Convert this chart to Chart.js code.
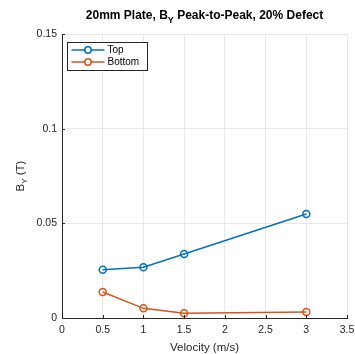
<!DOCTYPE html>
<html>
<head>
<meta charset="utf-8">
<script src="https://cdn.jsdelivr.net/npm/chart.js@4/dist/chart.umd.min.js"></script>
<style>
  html, body { margin: 0; padding: 0; background: #fff; }
  #wrap { width: 355px; height: 354px; }
</style>
</head>
<body>
<div id="wrap"><canvas id="c" width="355" height="354"></canvas></div>
<script>
// Velocity (m/s) and peak-to-peak B_Y (T) at the top and bottom sensors
const velocity = [0.5, 1, 1.5, 3];
const topValues = [0.0255, 0.0268, 0.0338, 0.0549];
const bottomValues = [0.0137, 0.0051, 0.0025, 0.0032];
const xTicks = [0, 0.5, 1, 1.5, 2, 2.5, 3, 3.5];
const yTicks = [0, 0.05, 0.1, 0.15];
const seriesNames = ['Top', 'Bottom'];

const BLUE = '#0072BD';
const ORANGE = '#D95319';
const FONT = '"Liberation Sans", Arial, sans-serif';

// Draws text with a subscript part: [[text, isSub], ...]
function drawRich(ctx, parts, x, y, size, bold, align) {
  const fontFor = (s) => (bold ? 'bold ' : '') + s + 'px ' + FONT;
  const subSize = Math.round(size * 0.72);
  let total = 0;
  parts.forEach(([t, sub]) => {
    ctx.font = fontFor(sub ? subSize : size);
    total += ctx.measureText(t).width;
  });
  let cx = align === 'center' ? x - total / 2 : x;
  ctx.textAlign = 'left';
  ctx.textBaseline = 'alphabetic';
  parts.forEach(([t, sub]) => {
    ctx.font = fontFor(sub ? subSize : size);
    ctx.fillText(t, cx, sub ? y + size * 0.3 : y);
    cx += ctx.measureText(t).width;
  });
}

const annotations = {
  id: 'annotations',
  afterDraw(chart) {
    const ctx = chart.ctx;
    const area = chart.chartArea;
    ctx.save();
    // inward tick marks
    ctx.strokeStyle = '#262626';
    ctx.lineWidth = 1;
    const xs = chart.scales.x, ys = chart.scales.y;
    xTicks.forEach(v => {
      const px = Math.round(xs.getPixelForValue(v)) + 0.5;
      ctx.beginPath(); ctx.moveTo(px, area.bottom); ctx.lineTo(px, area.bottom - 3); ctx.stroke();
    });
    yTicks.forEach(v => {
      const py = Math.round(ys.getPixelForValue(v)) + 0.5;
      ctx.beginPath(); ctx.moveTo(area.left, py); ctx.lineTo(area.left + 3, py); ctx.stroke();
    });

    // title
    ctx.fillStyle = '#000';
    drawRich(ctx, [['20mm Plate, B', false], ['Y', true], [' Peak-to-Peak, 20% Defect', false]],
      (area.left + area.right) / 2, 19, 12, true, 'center');

    // x label
    ctx.fillStyle = '#262626';
    ctx.font = '11.5px ' + FONT;
    ctx.textAlign = 'center';
    ctx.textBaseline = 'alphabetic';
    ctx.fillText('Velocity (m/s)', (area.left + area.right) / 2, 351);

    // y label
    ctx.save();
    ctx.translate(24, (area.top + area.bottom) / 2);
    ctx.rotate(-Math.PI / 2);
    drawRich(ctx, [['B', false], ['Y', true], [' (T)', false]], 0, 0, 11.5, false, 'center');
    ctx.restore();

    // legend
    const lx = 67.5, ly = 42.5, lw = 80, lh = 28;
    ctx.fillStyle = '#fff';
    ctx.fillRect(lx, ly, lw, lh);
    ctx.strokeStyle = '#262626';
    ctx.lineWidth = 1;
    ctx.strokeRect(lx, ly, lw, lh);
    const colors = [BLUE, ORANGE];
    seriesNames.forEach((name, i) => {
      const cy = ly + 7.5 + i * 12;
      ctx.strokeStyle = colors[i];
      ctx.lineWidth = 1.5;
      ctx.beginPath(); ctx.moveTo(lx + 4, cy); ctx.lineTo(lx + 37, cy); ctx.stroke();
      ctx.beginPath(); ctx.arc(lx + 20.5, cy, 3.2, 0, Math.PI * 2);
      ctx.fillStyle = '#fff'; ctx.fill(); ctx.stroke();
      ctx.fillStyle = '#000';
      ctx.font = '10px ' + FONT;
      ctx.textAlign = 'left';
      ctx.textBaseline = 'middle';
      ctx.fillText(name, lx + 40, cy + 0.5);
    });
    ctx.restore();
  }
};

const fmt = v => String(Math.round(v * 100) / 100);

new Chart(document.getElementById('c'), {
  type: 'line',
  data: {
    datasets: [
      {
        label: seriesNames[0],
        data: velocity.map((v, i) => ({ x: v, y: topValues[i] })),
        borderColor: BLUE, backgroundColor: '#fff',
        borderWidth: 1.5, pointRadius: 3.5, pointBorderWidth: 1.5,
        pointBackgroundColor: 'rgba(255,255,255,0)', pointBorderColor: BLUE, tension: 0
      },
      {
        label: seriesNames[1],
        data: velocity.map((v, i) => ({ x: v, y: bottomValues[i] })),
        borderColor: ORANGE, backgroundColor: '#fff',
        borderWidth: 1.5, pointRadius: 3.5, pointBorderWidth: 1.5,
        pointBackgroundColor: 'rgba(255,255,255,0)', pointBorderColor: ORANGE, tension: 0
      }
    ]
  },
  options: {
    responsive: false,
    animation: false,
    devicePixelRatio: 1,
    layout: { padding: { top: 34, right: 8, left: 0, bottom: 0 } },
    plugins: { legend: { display: false }, tooltip: { enabled: false }, title: { display: false } },
    scales: {
      x: {
        type: 'linear', min: 0, max: 3.5,
        afterBuildTicks: s => { s.ticks = xTicks.map(v => ({ value: v })); },
        afterFit: s => { s.height = 36; s.paddingLeft = 0; s.paddingRight = 0; },
        grid: { color: '#e8e8e8', drawTicks: false },
        border: { color: '#262626', width: 1 },
        ticks: { color: '#262626', font: { family: FONT, size: 10.5 }, padding: 6,
                 callback: v => fmt(v) }
      },
      y: {
        type: 'linear', min: 0, max: 0.15,
        afterBuildTicks: s => { s.ticks = yTicks.map(v => ({ value: v })); },
        afterFit: s => { s.width = 62; s.paddingTop = 0; s.paddingBottom = 0; },
        grid: { color: '#e8e8e8', drawTicks: false },
        border: { color: '#262626', width: 1 },
        ticks: { color: '#262626', font: { family: FONT, size: 10.5 }, padding: 5,
                 callback: v => fmt(v) }
      }
    }
  },
  plugins: [annotations]
});
</script>
</body>
</html>
